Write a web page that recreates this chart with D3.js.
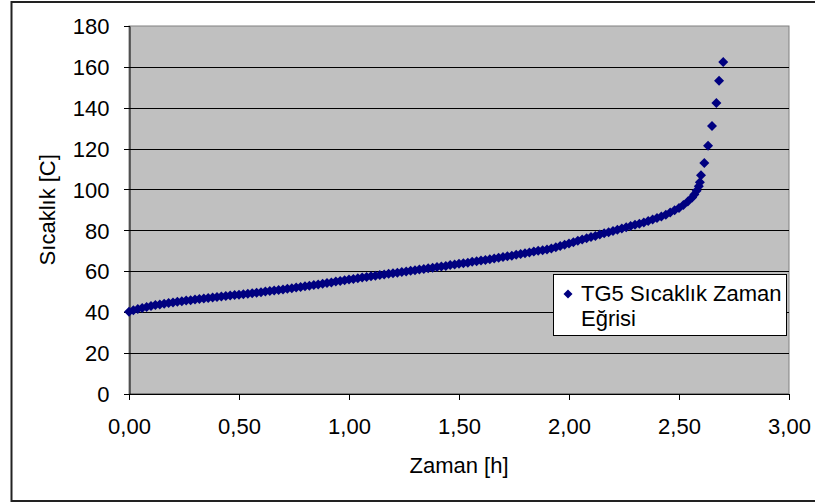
<!DOCTYPE html>
<html>
<head>
<meta charset="utf-8">
<script src="https://cdnjs.cloudflare.com/ajax/libs/d3/7.8.5/d3.min.js"></script>
<style>
    body { margin: 0; background: #fff; }
    text { font-family: Arial, "Liberation Sans", sans-serif; fill: #000; }
</style>
</head>
<body>
<script>
// data (time in hours, temperature in C)
var zaman = [
    0.00, 0.02, 0.04, 0.06, 0.08, 0.10, 0.12, 0.14, 0.16, 0.18,
    0.20, 0.22, 0.24, 0.26, 0.28, 0.30, 0.32, 0.34, 0.36, 0.38,
    0.40, 0.42, 0.44, 0.46, 0.48, 0.50, 0.52, 0.54, 0.56, 0.58,
    0.60, 0.62, 0.64, 0.66, 0.68, 0.70, 0.72, 0.74, 0.76, 0.78,
    0.80, 0.82, 0.84, 0.86, 0.88, 0.90, 0.92, 0.94, 0.96, 0.98,
    1.00, 1.02, 1.04, 1.06, 1.08, 1.10, 1.12, 1.14, 1.16, 1.18,
    1.20, 1.22, 1.24, 1.26, 1.28, 1.30, 1.32, 1.34, 1.36, 1.38,
    1.40, 1.42, 1.44, 1.46, 1.48, 1.50, 1.52, 1.54, 1.56, 1.58,
    1.60, 1.62, 1.64, 1.66, 1.68, 1.70, 1.72, 1.74, 1.76, 1.78,
    1.80, 1.82, 1.84, 1.86, 1.88, 1.90, 1.92, 1.94, 1.96, 1.98,
    2.00, 2.02, 2.04, 2.06, 2.08, 2.10, 2.12, 2.14, 2.16, 2.18,
    2.20, 2.22, 2.24, 2.26, 2.28, 2.30, 2.32, 2.34, 2.36, 2.38,
    2.40, 2.42, 2.44, 2.46, 2.48, 2.50, 2.52, 2.54, 2.56, 2.57,
    2.58, 2.59, 2.595, 2.60, 2.615, 2.632, 2.65, 2.67, 2.682, 2.701
];
var sicaklik = [
    40.0, 40.8, 41.4, 41.9, 42.4, 42.9, 43.3, 43.6, 44.0, 44.3,
    44.6, 44.9, 45.2, 45.5, 45.7, 46.0, 46.3, 46.5, 46.8, 47.0,
    47.3, 47.5, 47.7, 48.0, 48.2, 48.4, 48.6, 48.9, 49.1, 49.4,
    49.6, 49.9, 50.2, 50.4, 50.7, 51.0, 51.3, 51.6, 51.9, 52.2,
    52.5, 52.8, 53.1, 53.4, 53.8, 54.1, 54.4, 54.8, 55.1, 55.5,
    55.8, 56.1, 56.5, 56.8, 57.1, 57.4, 57.7, 58.0, 58.3, 58.6,
    58.9, 59.2, 59.5, 59.8, 60.1, 60.4, 60.7, 61.0, 61.3, 61.6,
    61.9, 62.2, 62.5, 62.9, 63.2, 63.5, 63.8, 64.1, 64.5, 64.8,
    65.1, 65.4, 65.8, 66.1, 66.5, 66.8, 67.2, 67.5, 67.9, 68.3,
    68.7, 69.1, 69.5, 69.9, 70.2, 70.5, 71.0, 71.6, 72.3, 72.9,
    73.5, 74.1, 74.8, 75.4, 76.0, 76.6, 77.2, 77.9, 78.5, 79.0,
    79.6, 80.2, 80.8, 81.4, 82.0, 82.6, 83.2, 83.8, 84.5, 85.2,
    85.9, 86.7, 87.6, 88.6, 89.7, 90.9, 92.3, 94.0, 96.0, 97.5,
    99.3, 101.5, 103.5, 106.9, 112.9, 121.4, 131.0, 142.3, 153.2, 162.4
];
var xTicks = [0, 0.5, 1, 1.5, 2, 2.5, 3];
var yTicks = [0, 20, 40, 60, 80, 100, 120, 140, 160, 180];
var seriesName = ["TG5 Sıcaklık Zaman", "Eğrisi"];

// dimensions
var width = 815;
var height = 504;

var margin = {
    top: 26,
    bottom: 110.5,
    left: 129,
    right: 26
};

var svg = d3.select("body")
    .append("svg")
    .attr("width", width)
    .attr("height", height);

// outer chart border
svg.append("rect")
    .attr("x", 11.5)
    .attr("y", 2)
    .attr("width", 820)
    .attr("height", 499)
    .style("fill", "#fff")
    .style("stroke", "#222")
    .style("stroke-width", 2);

var x = d3.scaleLinear()
    .domain([0, 3])
    .range([margin.left, width - margin.right]);

var y = d3.scaleLinear()
    .domain([0, 180])
    .range([height - margin.bottom, margin.top]);

var fmt = function(d) { return d.toFixed(2).replace(".", ","); };

// plot area
svg.append("rect")
    .attr("x", x(0))
    .attr("y", y(180))
    .attr("width", x(3) - x(0))
    .attr("height", y(0) - y(180))
    .style("fill", "#c0c0c0")
    .style("stroke", "#808080")
    .style("stroke-width", 1);

// gridlines
svg.append("g")
    .selectAll("line")
    .data(yTicks.filter(function(d) { return d > 0 && d < 180; }))
    .enter()
    .append("line")
    .attr("x1", x(0))
    .attr("x2", x(3))
    .attr("y1", function(d) { return Math.round(y(d)) + 0.5; })
    .attr("y2", function(d) { return Math.round(y(d)) + 0.5; })
    .style("stroke", "#000")
    .style("stroke-width", 1);

// y axis
var yAxis = svg.append("g")
    .attr("transform", "translate(" + (x(0) + 0.5) + ",0)")
    .call(d3.axisLeft(y).tickValues(yTicks).tickSize(6).tickPadding(14).tickSizeOuter(0));
yAxis.selectAll("text").style("font-size", "22px").attr("dy", "0.36em");

// x axis
var xAxis = svg.append("g")
    .attr("transform", "translate(0," + (y(0) + 0.5) + ")")
    .call(d3.axisBottom(x).tickValues(xTicks).tickFormat(fmt).tickSize(6).tickPadding(18).tickSizeOuter(0));
xAxis.selectAll("text").style("font-size", "22px");

svg.selectAll(".domain, .tick line").style("stroke", "#000");
svg.selectAll(".tick line").attr("shape-rendering", "crispEdges");

// axis titles
svg.append("text")
    .attr("x", x(1.5))
    .attr("y", 473)
    .attr("text-anchor", "middle")
    .style("font-size", "22px")
    .text("Zaman [h]");

svg.append("text")
    .attr("transform", "translate(55," + y(90) + ") rotate(-90)")
    .attr("text-anchor", "middle")
    .style("font-size", "22px")
    .text("Sıcaklık [C]");

// diamond marker shape
var diamond = function(r) {
    return "M0," + (-r) + "L" + r + ",0L0," + r + "L" + (-r) + ",0Z";
};

var points = zaman.map(function(t, i) { return { t: t, v: sicaklik[i] }; });

svg.append("g")
    .selectAll("path")
    .data(points)
    .enter()
    .append("path")
    .attr("d", diamond(5))
    .attr("transform", function(d) { return "translate(" + x(d.t) + "," + y(d.v) + ")"; })
    .style("fill", "#000080");

// legend
var legend = svg.append("g");
legend.append("rect")
    .attr("x", 553.5)
    .attr("y", 274.5)
    .attr("width", 233)
    .attr("height", 61)
    .style("fill", "#fff")
    .style("stroke", "#000")
    .style("stroke-width", 1);
legend.append("path")
    .attr("d", diamond(4.5))
    .attr("transform", "translate(568,294)")
    .style("fill", "#000080");
legend.selectAll("text.leg")
    .data(seriesName)
    .enter()
    .append("text")
    .attr("class", "leg")
    .attr("x", 581)
    .attr("y", function(d, i) { return 301 + i * 25; })
    .style("font-size", "22px")
    .text(function(d) { return d; });
</script>
</body>
</html>
